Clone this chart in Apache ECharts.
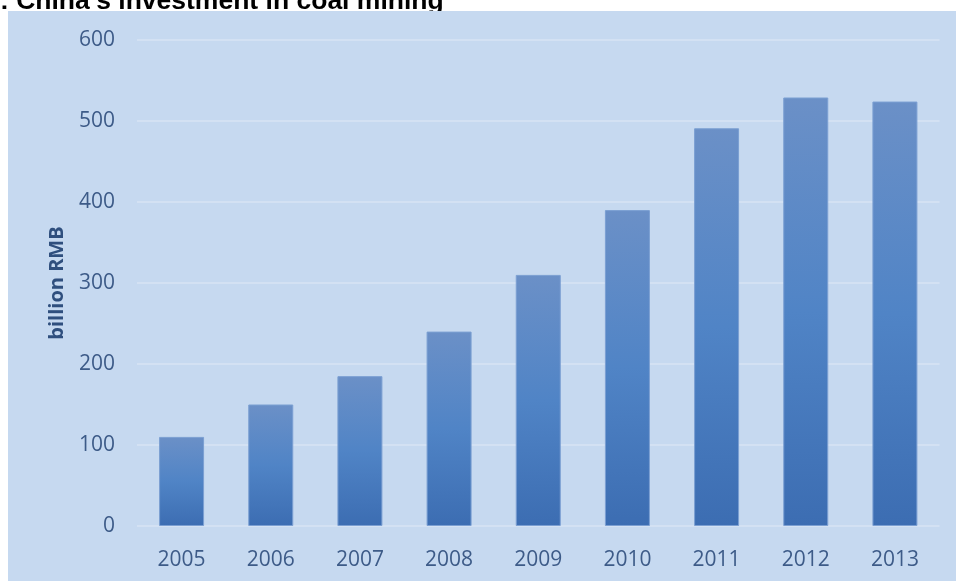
<!DOCTYPE html>
<html>
<head>
<meta charset="utf-8">
<style>
  html, body { margin: 0; padding: 0; background: #ffffff; }
  #chart { width: 956px; height: 581px; }
</style>
<script src="https://cdn.jsdelivr.net/npm/echarts@6/dist/echarts.min.js"></script>
</head>
<body>
<div id="chart"></div>
<script>
// Investment in coal mining, billion RMB
const years = ['2005', '2006', '2007', '2008', '2009', '2010', '2011', '2012', '2013'];
const investment = [110, 150, 185, 240, 310, 390, 491, 529, 524];
const yTicks = { min: 0, max: 600, interval: 100 };

const titleText = ': China\u2019s investment in coal mining';
const axisName = 'billion RMB';

const labelFont = '"Open Sans", "Noto Sans", sans-serif';
const labelColor = '#3d5b88';

const chart = echarts.init(document.getElementById('chart'), null, { renderer: 'canvas' });

chart.setOption({
  backgroundColor: '#ffffff',
  animation: false,
  graphic: [
    {
      type: 'text',
      z: -10,
      x: 0,
      y: 2,
      style: {
        text: titleText,
        font: 'bold 26.5px "Liberation Sans", Arial, sans-serif',
        fill: '#000000',
        verticalAlign: 'middle',
        align: 'left'
      }
    },
    {
      type: 'rect',
      z: -5,
      shape: { x: 8, y: 11, width: 948, height: 570 },
      style: { fill: '#c6d9f0' }
    }
  ],
  grid: { left: 137, right: 16.5, top: 40, bottom: 55 },
  xAxis: {
    type: 'category',
    data: years,
    axisLine: { show: false },
    axisTick: { show: false },
    axisLabel: {
      margin: 24,
      color: labelColor,
      fontFamily: labelFont,
      fontSize: 21
    }
  },
  yAxis: {
    type: 'value',
    min: yTicks.min,
    max: yTicks.max,
    interval: yTicks.interval,
    name: axisName,
    nameLocation: 'middle',
    nameRotate: 90,
    nameGap: 70,
    nameTextStyle: {
      color: '#2f4f7e',
      fontFamily: labelFont,
      fontWeight: 'bold',
      fontSize: 20
    },
    axisLine: { show: false },
    axisTick: { show: false },
    splitLine: { lineStyle: { color: '#d3e1f3', width: 2 } },
    axisLabel: {
      margin: 22,
      color: labelColor,
      fontFamily: labelFont,
      fontSize: 21
    }
  },
  series: [
    {
      type: 'bar',
      data: investment,
      barWidth: 45,
      itemStyle: {
        borderColor: '#7b9fd2',
        borderWidth: 1,
        color: new echarts.graphic.LinearGradient(0, 0, 0, 1, [
          { offset: 0, color: '#6b90c7' },
          { offset: 0.5, color: '#5084c6' },
          { offset: 1, color: '#3c6db2' }
        ])
      }
    }
  ]
});
</script>
</body>
</html>
